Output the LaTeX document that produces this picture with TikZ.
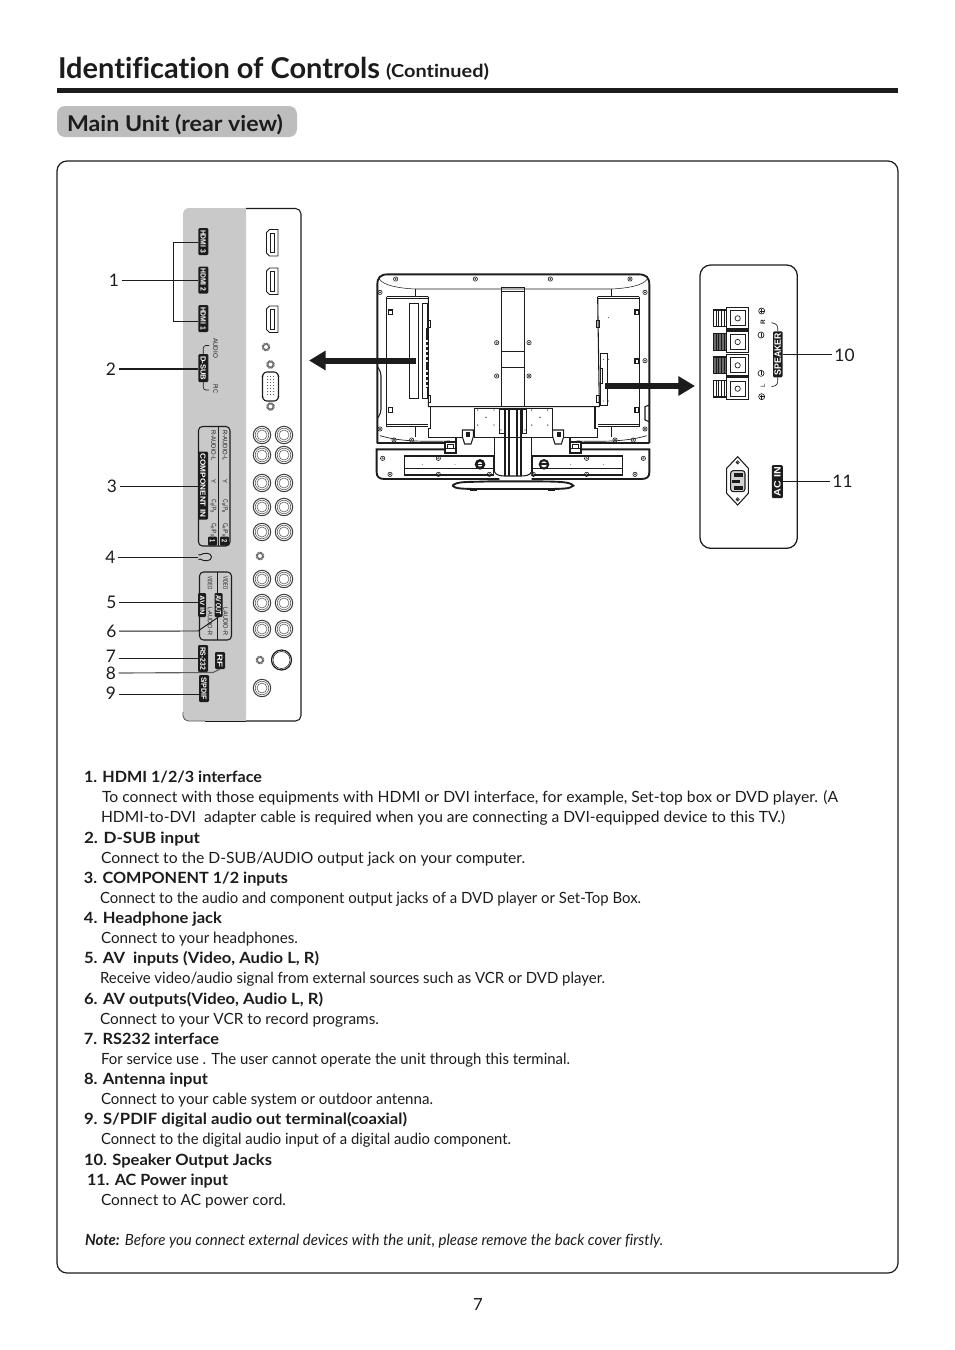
\documentclass[tikz,border=0pt]{standalone}
\usepackage{fontspec}
\usepackage{graphicx}
\setmainfont{Lato}[Ligatures=NoCommon]
\newfontfamily\chipfont{Liberation Sans}
\usetikzlibrary{arrows.meta,calc}
\newdimen\pxu \pxu=0.75pt
\definecolor{panelgray}{HTML}{C9C9C9}
\definecolor{headgray}{HTML}{BDBDBD}
\definecolor{ink}{HTML}{1C1C1C}
\newcommand\fw[2]{\resizebox{#1\pxu}{\height}{#2}}
% body line: name, x-left, x-right, baseline y, text
\newcommand\tl[5]{\node[txt] (#1) at (#2,#4) {\fw{\the\numexpr #3-#2\relax}{#5}};}
\newcommand\tlb[5]{\node[txt,font=\bfseries\fontsize{11.6pt}{13pt}\selectfont] (#1) at (#2,#4) {\fw{\the\numexpr #3-#2\relax}{#5}};}
% chip: name, cx, cy, length, thickness, text, rotation
\newcommand\chip[7]{\node[chipbox,minimum width=#4\pxu,minimum height=#5\pxu,rotate=#7] (#1) at (#2,#3) {\fw{\the\numexpr #4-4\relax}{\chipfont\bfseries #6}};}
% small print on panel: name, x, y, length, text, rotation
\newcommand\smalltxt[6]{\node[fine,rotate=#6] (#1) at (#2,#3) {\fw{#4}{\chipfont #5}};}
\tikzset{
  txt/.style={anchor=base west,inner sep=0pt,outer sep=0pt,font=\fontsize{11.6pt}{13pt}\selectfont,text=ink},
  chipbox/.style={fill=ink,rounded corners=0.9pt,inner sep=0pt,outer sep=0pt,text=white,font=\fontsize{5.6pt}{6pt}\selectfont},
  fine/.style={inner sep=0pt,outer sep=0pt,text=ink,font=\fontsize{4.8pt}{5pt}\selectfont},
  num/.style={inner sep=2pt,outer sep=0pt,text=ink,font=\fontsize{13pt}{14pt}\selectfont},
  leader/.style={draw=ink,line width=0.7pt},
  thinl/.style={draw=ink,line width=0.5pt},
  medl/.style={draw=ink,line width=0.8pt},
  fat/.style={draw=ink,line width=1.4pt},
}
\newcommand\rca[2]{\draw[line width=0.75pt,draw=ink!85] (#1,#2) circle (8.7);\draw[line width=0.45pt,draw=ink!70] (#1,#2) circle (6.8);\draw[line width=0.45pt,draw=ink!70] (#1,#2) circle (5);}
\newcommand\screwA[2]{\draw[line width=1.7pt,draw=ink!70,dash pattern=on 0.6pt off 0.35pt] (#1,#2) circle (3.3);}
\newcommand\hdmi[1]{\draw[line width=0.7pt,draw=ink,fill=white] (266.5,#1+3) -- (266.5,#1+23.5) -- (269.5,#1+26.5) -- (278,#1+26.5) -- (278,#1) -- (269.5,#1) -- cycle;
  \draw[line width=0.5pt,draw=ink] (270.7,#1+3.5) rectangle (274,#1+23);}
\newcommand\tscrew[2]{\draw[line width=0.45pt,draw=ink] (#1,#2) circle (6.5);\fill[ink] (#1,#2) circle (3.2);\fill[white] (#1,#2) circle (1);}
\begin{document}
\begin{tikzpicture}[x=0.75pt,y=-0.75pt]
\useasboundingbox (0,0) rectangle (954,1350);
\fill[white] (0,0) rectangle (954,1350);

% ---------- header
\node[txt,font=\bfseries\fontsize{21.5pt}{24pt}\selectfont] (title) at (58,78.3) {\fw{322}{Identification of Controls}};
\node[txt,font=\bfseries\fontsize{13.4pt}{15pt}\selectfont] (cont) at (386,77.8) {\fw{103}{(Continued)}};
\fill[ink] (57,88) rectangle (898,93);
\fill[headgray,rounded corners=6pt] (57,106) rectangle (297,137);
\node[txt,font=\bfseries\fontsize{16.3pt}{18pt}\selectfont] (sect) at (67,131.3) {\fw{216}{Main Unit (rear view)}};
\draw[ink,line width=0.9pt,rounded corners=7.5pt] (57,161) rectangle (898,1273);

% ---------- left connector panel
\fill[panelgray,rounded corners=4.5pt] (246,208) -- (183,208) -- (183,721) -- (246,721) -- cycle;
\fill[panelgray] (235,208) rectangle (245.5,721);
\draw[draw=ink!75,line width=0.6pt,rounded corners=4pt] (183,712) -- (183,721) -- (205,721);
\draw[draw=ink,line width=0.6pt] (205,721) -- (246,721);
\draw[medl,rounded corners=4pt] (246,208.5) -- (301,208.5) -- (301,721) -- (246,721);

\hdmi{229.5} \hdmi{268} \hdmi{306}
\screwA{266}{347}
\screwA{270.5}{364.5}
\screwA{270.5}{406.5}
\draw[medl,fill=white,rounded corners=2pt] (264,372) -- (277,372) -- (278.5,376) -- (278.5,397) -- (277,401) -- (264,401) -- (262.5,397) -- (262.5,376) -- cycle;
\foreach \xx in {267.5,270.5,273.5}{\foreach \yy in {376.5,379.5,...,397}{\fill[ink!70] (\xx,\yy) circle (0.7);}}
\foreach \yy in {435,455,483,507,532,579,603,629}{\rca{262}{\yy}\rca{284}{\yy}}
\rca{262}{688}
\screwA{260}{556}
\screwA{260}{660}
\draw[line width=0.9pt,draw=ink] (281.5,660) circle (10);
\draw[line width=0.4pt,draw=ink] (281.5,660) circle (8.5);

% chips on the panel
\chip{cHthree}{203.3}{241.5}{27}{10}{HDMI 3}{-90}
\chip{cHtwo}{203.3}{280}{27}{10}{HDMI 2}{-90}
\chip{cHone}{203.3}{318.5}{27}{10}{HDMI 1}{-90}
\chip{cDsub}{203.3}{368}{28}{10}{D-SUB}{-90}
\chip{cComp}{203}{485.5}{68}{10}{COMPONENT IN}{-90}
\chip{cAVin}{202}{605}{24}{8}{AV IN}{-90}
\chip{cAVout}{218.5}{605}{24}{8}{AV OUT}{-90}
\chip{cRS}{203}{658.5}{27}{10}{RS-232}{-90}
\chip{cRF}{220}{660.5}{17}{10}{RF}{-90}
\chip{cSPDIF}{204}{688.5}{27}{10}{S/PDIF}{-90}

% D-SUB hooks
\draw[thinl,rounded corners=2pt] (cDsub.west) -- (203.3,345.5) -- (209,345.5);
\draw[thinl,rounded corners=2pt] (cDsub.east) -- (203.3,390) -- (209,390);
\smalltxt{audio}{215.7}{348}{20}{AUDIO}{-90}
\smalltxt{pic}{215.7}{388.5}{9}{PIC}{-90}

% component box
\draw[medl,rounded corners=3pt] (218.3,426.5) -- (230,426.5) -- (230,546) -- (198.5,546) -- (198.5,426.5) -- cycle;
\draw[medl] (218.3,426.5) -- (218.3,546);
\smalltxt{rA}{225}{445.5}{30}{R-AUDIO-L}{-90}
\smalltxt{lA}{213.5}{445.5}{30}{R-AUDIO-L}{-90}
\smalltxt{yA}{225}{481}{4}{Y}{-90}
\smalltxt{yB}{213.5}{481}{4}{Y}{-90}
\smalltxt{cbA}{225}{506.5}{14}{C\textsubscript{B}/P\textsubscript{B}}{-90}
\smalltxt{cbB}{213.5}{506.5}{14}{C\textsubscript{B}/P\textsubscript{B}}{-90}
\smalltxt{crA}{225}{530}{14}{C\textsubscript{R}/P\textsubscript{R}}{-90}
\smalltxt{crB}{213.5}{530}{14}{C\textsubscript{R}/P\textsubscript{R}}{-90}
\chip{cOne}{212.5}{541}{9}{9}{\,1\,}{-90}
\chip{cTwo}{224.5}{541}{9}{9}{\,2\,}{-90}

% headphone glyph
\draw[line width=0.7pt,draw=ink] (198.5,554.5) -- (200,555) .. controls (204,552.3) and (211.5,552.5) .. (211.5,557) .. controls (211.5,561.5) and (204,561.7) .. (200,559) -- (198.5,559.5);

% AV box
\draw[medl,rounded corners=3pt] (199.5,572) rectangle (231.5,640);
\draw[medl] (217.7,572) -- (217.7,593);
\draw[medl] (217.7,617) -- (217.7,640);
\smalltxt{vidA}{210}{583}{13}{VIDEO}{-90}
\smalltxt{vidB}{225.7}{583}{13}{VIDEO}{-90}
\smalltxt{audA}{210}{621}{28}{L-AUDIO-R}{-90}
\smalltxt{audB}{225.7}{621}{28}{L-AUDIO-R}{-90}

% ---------- leader numbers and lines
\node[num] (nOne) at (114,280) {1};
\node[num] (nTwo) at (111,369) {2};
\node[num] (nThree) at (112,486) {3};
\node[num] (nFour) at (110.5,557) {4};
\node[num] (nFive) at (111.5,602) {5};
\node[num] (nSix) at (111.5,631.5) {6};
\node[num] (nSeven) at (111,656) {7};
\node[num] (nEight) at (111,673) {8};
\node[num] (nNine) at (111,693.5) {9};

\coordinate (brk) at (173,281);
\draw[leader] (nOne.east) -- (nOne.east -| cHtwo.south);
\draw[leader] ([yshift=-0.6pt]cHthree.south) -| (brk);
\draw[leader] ([yshift=-2.4pt]cHone.south) -| (brk);
\draw[leader,line width=1pt] (nTwo.east) -- (nTwo.east -| cDsub.south);
\draw[leader] (nThree.east) -- (nThree.east -| cComp.south);
\coordinate (hp) at (198,557);
\draw[leader] (nFour.east) -- (hp);
\draw[leader] (nFive.east) -- (nFive.east -| cAVin.south);
\coordinate (sixk) at (198,631);
\draw[leader] ([yshift=0.3pt]nSix.east) -- (sixk) -- (cAVout.east);
\draw[leader] ([yshift=-1.5pt]nSeven.east) -- ([yshift=-1.5pt]nSeven.east -| cRS.south);
\coordinate (eightk) at (213,672.5);
\draw[draw=ink!70,line width=0.85pt] (nEight.east) -- (eightk) -- (cRF.east);
\draw[leader] ([yshift=-1pt]nNine.east) -- ([yshift=-1pt]nNine.east -| cSPDIF.south);

% ---------- TV (coordinates are pixels of a 3x crop)
\begin{scope}[shift={(370,265)},x=0.25pt,y=-0.25pt]
  % body
  \draw[fat] (22,535) -- (22,60) .. controls (22,38) and (30,28) .. (55,28) -- (805,28) .. controls (830,28) and (838,38) .. (838,60) -- (838,535);
  \draw[thinl,line width=0.4pt] (28,42) .. controls (40,62) and (90,70) .. (135,72) -- (725,72) .. controls (770,70) and (820,62) .. (832,42);
  % side bays
  \draw[medl] (50,95) -- (175,95) (50,95) -- (50,485) -- (175,485);
  \draw[thinl] (50,101) -- (175,101) (50,478) -- (175,478);
  \draw[medl] (808,95) -- (683,95) (808,95) -- (808,485) -- (683,485);
  \draw[thinl] (808,101) -- (683,101) (808,478) -- (683,478);
  \draw[thinl] (135,72) -- (135,95) (725,72) -- (725,95) (135,485) -- (135,515) (725,485) -- (725,515);
  \draw[thinl] (118,115) rectangle (145,400);
  \draw[thinl] (157,115) rectangle (172,400);
  \fill[ink] (168,190) rectangle (175,370);
  \foreach \yy in {225,240,255,270,285,315,330,345,360}{\fill[white] (169,\yy) rectangle (174,\yy+7);}
  \foreach \xx/\yy in {55/135,55/282,55/428,795/135,795/282,795/428}{\draw[medl] (\xx,\yy) rectangle (\xx+12,\yy+14);}
  % small side mouldings
  \draw[medl,rounded corners=3pt] (22,305) -- (33,320) -- (33,445) -- (22,460);
  \draw[medl] (838,420) -- (825,425) -- (825,465) -- (838,470);
  % centre plate
  \draw[medl] (175,95) -- (175,425) -- (688,425) -- (683,95);
  \draw[medl] (395,67) rectangle (463,425);
  \draw[thinl] (395,78) -- (463,78);
  \draw[thinl] (395,260) -- (463,260) (395,307) -- (463,307);
  \foreach \xx in {175,680}{\draw[thinl] (\xx,165) rectangle (\xx+7,188);\draw[thinl] (\xx,390) rectangle (\xx+7,413);}
  % right inner board
  \draw[thinl] (690,265) rectangle (713,422);
  \draw[thinl] (690,310) rectangle (696,355);
  \foreach \xx/\yy in {715/158,700/283,716/283,700/408,716/408}{\fill[ink] (\xx,\yy) circle (1.5);}
  % lower shroud
  \draw[medl] (181,425) -- (181,490) -- (175,490) -- (175,517) -- (277,517);
  \draw[medl] (675,425) -- (675,490) -- (683,490) -- (683,517) -- (582,517);
  \draw[thinl] (313,430) rectangle (547,517);
  \draw[thinl] (388,433) rectangle (402,505);
  \draw[thinl] (456,433) rectangle (470,505);
  \foreach \xx/\yy in {323/435,372/435,323/480,372/480,348/457,485/435,533/435,485/480,533/480,510/457,393/495,465/495}{\fill[ink] (\xx,\yy) circle (2);}
  % clips
  \foreach \xx in {277,548}{\draw[medl] (\xx,495) -- (\xx+33,495) -- (\xx+33,515) -- (\xx+26,537) -- (\xx+7,537) -- (\xx,515) -- cycle; \draw[thinl] (\xx+13,503) rectangle (\xx+16,513); \draw[thinl] (\xx+19,503) rectangle (\xx+22,513);}
  % shoulder lines
  \draw[fat] (22,535) -- (225,535) (632,535) -- (838,535);
  \draw[thinl] (30,512) .. controls (90,530) and (160,530) .. (240,528);
  \draw[thinl] (830,512) .. controls (770,530) and (700,530) .. (620,528);
  \foreach \xx in {225,600}{\draw[fat] (\xx,530) rectangle (\xx+33,563); \draw[thinl] (\xx,550) -- (\xx+33,550); \draw[thinl] (\xx+8,538) rectangle (\xx+25,550);}
  \draw[medl] (258,517) -- (258,530) (600,517) -- (600,530);
  % bottom bar
  \draw[fat] (225,553) -- (20,553) -- (20,622) .. controls (20,636) and (28,642) .. (44,642) -- (388,642);
  \draw[fat] (632,553) -- (838,553) -- (838,622) .. controls (838,636) and (830,642) .. (814,642) -- (485,642);
  \draw[medl] (103,573) -- (370,573) -- (370,630) -- (103,630) -- cycle;
  \draw[thinl] (103,610) -- (370,610);
  \draw[medl] (487,573) -- (757,573) -- (757,630) -- (487,630) -- cycle;
  \draw[thinl] (487,610) -- (757,610);
  \foreach \xx in {157,255,602,700}{\fill[ink!60] (\xx,598) circle (1.7);}
  \fill[ink] (330,598) circle (16);\fill[white] (330,598) circle (7);\draw[medl] (320,598) -- (340,598);
  \fill[ink] (522,598) circle (16);\fill[white] (522,598) circle (9);\draw[fat] (512,598) -- (532,598);
  % stand
  \draw[fat] (405,433) -- (405,632) (417,433) -- (417,632) (440,433) -- (440,632) (452,433) -- (452,632);
  \draw[medl] (373,517) -- (373,620) (485,517) -- (485,620);
  \draw[medl] (373,620) .. controls (378,632) and (395,633) .. (405,633) -- (452,633) .. controls (465,633) and (480,632) .. (485,620);
  \draw[medl] (388,433) -- (470,433);
  \draw[fat] (247,662) .. controls (262,648) and (290,652) .. (360,649) -- (500,649) .. controls (570,650) and (600,650) .. (610,662) .. controls (600,672) and (580,672) .. (500,672) -- (360,672) .. controls (280,672) and (255,672) .. (247,662);
  \fill[ink] (300,668) rectangle (320,677);
  \fill[ink] (535,668) rectangle (555,677);
  % fixings
  \foreach \xx in {77,316,541,780}{\tscrew{\xx}{42}}
  \foreach \xx/\yy in {30/82,825/82,30/492,825/492,825/287,380/233,477/233,380/333,477/333}{\tscrew{\xx}{\yy}}
  \foreach \xx/\yy in {72/525,125/525,735/525,790/525,60/628,205/628,358/628,490/628,650/628,795/628,38/580,205/580,650/580,820/580}{\tscrew{\xx}{\yy}}
\end{scope}

% ---------- big arrows
\coordinate (laStart) at (415.6,360.5);
\coordinate (laEnd) at (309,360.5);
\coordinate (raStart) at (605,386);
\coordinate (raEnd) at (695,386);
\draw[ink,line width=4.5pt,-{Triangle[length=12.5pt,width=14pt]}] (laStart) -- (laEnd);
\draw[ink,line width=4.7pt,-{Triangle[length=12.5pt,width=14pt]}] (raStart) -- (raEnd);

% ---------- right panel (coordinates are pixels of a 3x crop)
\begin{scope}[shift={(690,260)},x=0.25pt,y=-0.25pt]
  \draw[ink,line width=0.95pt,rounded corners=8pt] (30,15) rectangle (322,865);
  \foreach \yy/\fc in {142/white,213/ink!65,283/ink!65,353/white}{
    \fill[\fc] (70,\yy+8) rectangle (110,\yy+58);
    \draw[medl] (70,\yy+8) rectangle (110,\yy+58);
    \foreach \xx in {78,86,94,102}{\draw[thinl] (\xx,\yy+8) -- (\xx,\yy+58);}
    \draw[medl,fill=white] (110,\yy) rectangle (175,\yy+65);
    \draw[thinl] (121,\yy+10) rectangle (165,\yy+55);
    \draw[thinl] (143,\yy+33) circle (8);
  }
  \foreach \yy in {153,410}{\draw[thinl] (215,\yy) circle (9);\draw[thinl] (209,\yy) -- (221,\yy) (215,\yy-6) -- (215,\yy+6);}
  \foreach \yy in {225,340}{\draw[thinl] (213,\yy) circle (9);\draw[thinl] (213,\yy-6) -- (213,\yy+6);}
  \node[fine,rotate=90,font=\bfseries\fontsize{4.8pt}{5pt}\selectfont] (lblR) at (219,188) {\chipfont R};
  \node[fine,rotate=90,font=\fontsize{4.8pt}{5pt}\selectfont] (lblL) at (219,377) {\chipfont L};
  % AC socket
  \draw[medl] (110,625) -- (143,590) -- (175,625) -- (175,700) -- (143,735) -- (110,700) -- cycle;
  \draw[medl,fill=ink!20,rounded corners=2pt] (122,632) rectangle (165,695);
  \fill[ink] (133,640) rectangle (158,651);
  \fill[ink] (126,660) rectangle (151,669);
  \fill[ink] (133,679) rectangle (158,689);
  \draw[thinl] (143,607) circle (5);\fill[ink] (143,607) circle (2);
  \draw[thinl] (143,718) circle (5);\fill[ink] (143,718) circle (2);
\end{scope}
\chip{cSpk}{777.8}{354.3}{46}{9.5}{\fontsize{6.9pt}{7pt}\selectfont SPEAKER}{90}
\chip{cAC}{777.3}{481.7}{33}{11}{\fontsize{7pt}{7pt}\selectfont AC IN}{90}
\draw[thinl,rounded corners=2pt] (cSpk.east) -- (777.5,324.5) -- (771.5,322.7);
\draw[thinl,rounded corners=2pt] (cSpk.west) -- (777.5,385) -- (771.5,386.7);
\node[num] (nTen) at (844.5,355) {10};
\node[num] (nEleven) at (842.5,481.7) {11};
\draw[leader,line width=1pt] (cSpk.south) -- (cSpk.south -| nTen.west);
\draw[leader] (cAC.south) -- (cAC.south -| nEleven.west);

% ---------- text
\tlb{a1}{84}{262}{782}{1. HDMI 1/2/3 interface}
\tl{b1}{102}{838}{802.5}{To connect with those equipments with HDMI or DVI interface, for example, Set-top box or DVD player. (A}
\tl{b2}{101}{785}{822.5}{HDMI-to-DVI\ \ adapter cable is required when you are connecting a DVI-equipped device to this TV.)}
\tlb{a2}{84}{200}{843}{2. D-SUB input}
\tl{b3}{101}{525}{863}{Connect to the D-SUB/AUDIO output jack on your computer.}
\tlb{a3}{84}{288}{883}{3. COMPONENT 1/2 inputs}
\tl{b4}{100}{641}{903.5}{Connect to the audio and component output jacks of a DVD player or Set-Top Box.}
\tlb{a4}{84}{222}{923}{4. Headphone jack}
\tl{b5}{101}{298}{943}{Connect to your headphones.}
\tlb{a5}{84}{319}{963}{5. AV\ \ inputs (Video, Audio L, R)}
\tl{b6}{100}{605}{983.5}{Receive video/audio signal from external sources such as VCR or DVD player.}
\tlb{a6}{84}{323}{1004}{6. AV outputs(Video, Audio L, R)}
\tl{b7}{100}{379}{1024}{Connect to your VCR to record programs.}
\tlb{a7}{84}{219}{1044}{7. RS232 interface}
\tl{b8}{101}{570}{1064.5}{For service use . The user cannot operate the unit through this terminal.}
\tlb{a8}{84}{208}{1084}{8. Antenna input}
\tl{b9}{101}{433}{1104}{Connect to your cable system or outdoor antenna.}
\tlb{a9}{84}{407}{1124}{9. S/PDIF digital audio out terminal(coaxial)}
\tl{b10}{101}{511}{1144}{Connect to the digital audio input of a digital audio component.}
\tlb{a10}{84}{272}{1165}{10. Speaker Output Jacks}
\tlb{a11}{87}{228}{1185}{11. AC Power input}
\tl{b11}{101}{286}{1205}{Connect to AC power cord.}
\node[txt] (note) at (85,1245) {\fw{578}{\textbf{\textit{Note:}} \textit{Before you connect external devices with the unit, please remove the back cover firstly.}}};
\node[txt,font=\fontsize{12.5pt}{14pt}\selectfont] (page) at (473,1310) {7};
\end{tikzpicture}
\end{document}
